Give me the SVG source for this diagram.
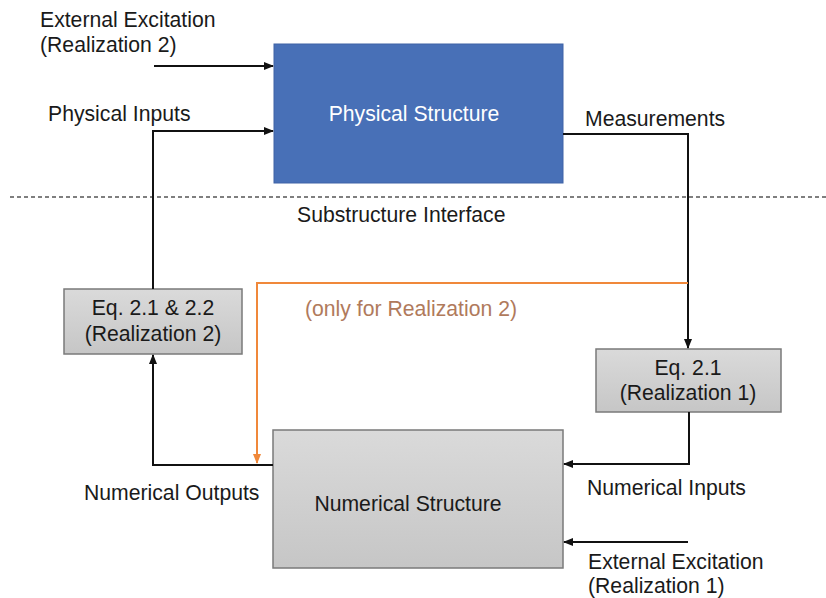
<svg xmlns="http://www.w3.org/2000/svg" width="826" height="598" viewBox="0 0 826 598">
  <style>
    text { font-family: "Liberation Sans", Arial, sans-serif; font-size: 21.2px; fill: #1a1a1a; }
    .c { text-anchor: middle; }
    .w { fill: #ffffff; }
    .note { fill: #b07a5c; }
    .wire { fill: none; stroke: #111; stroke-width: 2; }
    .orange { fill: none; stroke: #f0883a; stroke-width: 2; }
    .eq { stroke: #7a7a7a; stroke-width: 1.5; fill: url(#gray); }
  </style>
  <defs>
    <linearGradient id="gray" x1="0" y1="0" x2="0" y2="1">
      <stop offset="0" stop-color="#dadada"/>
      <stop offset="1" stop-color="#c6c6c6"/>
    </linearGradient>
    <marker id="ah" markerWidth="10" markerHeight="8" refX="9" refY="4" orient="auto" markerUnits="userSpaceOnUse">
      <path d="M0,0 L10,4 L0,8 Z" fill="#111"/>
    </marker>
    <marker id="aho" markerWidth="10" markerHeight="8" refX="9" refY="4" orient="auto" markerUnits="userSpaceOnUse">
      <path d="M0,0 L10,4 L0,8 Z" fill="#f0883a"/>
    </marker>
  </defs>

  <!-- interface line between the physical and numerical parts -->
  <line x1="10" y1="197" x2="826" y2="197" stroke="#555" stroke-width="1.5" stroke-dasharray="4 3"/>
  <text x="297" y="222">Substructure Interface</text>

  <g id="physical">
    <rect x="274" y="44" width="289" height="139" fill="#4870b7" stroke="#3f63a6" stroke-width="1"/>
    <text class="c w" x="414" y="121">Physical Structure</text>
  </g>

  <g id="eq21_22">
    <rect class="eq" x="64" y="289" width="178" height="65"/>
    <text class="c" x="153" y="315">Eq. 2.1 &amp; 2.2</text>
    <text class="c" x="153" y="341">(Realization 2)</text>
  </g>

  <g id="eq21">
    <rect class="eq" x="596" y="349" width="185" height="63"/>
    <text class="c" x="688" y="375">Eq. 2.1</text>
    <text class="c" x="688" y="400">(Realization 1)</text>
  </g>

  <g id="numerical">
    <rect x="273" y="430" width="290" height="138" fill="url(#gray)" stroke="#7a7a7a" stroke-width="1.5"/>
    <text class="c" x="408" y="511">Numerical Structure</text>
  </g>

  <g id="connectors">
    <!-- external excitation into the physical structure -->
    <line class="wire" x1="154" y1="66" x2="273" y2="66" marker-end="url(#ah)"/>
    <!-- physical inputs from Eq. 2.1 & 2.2 -->
    <polyline class="wire" points="153,289 153,131 273,131" marker-end="url(#ah)"/>
    <!-- measurements down to Eq. 2.1 -->
    <polyline class="wire" points="563,134 688,134 688,348" marker-end="url(#ah)"/>
    <!-- measurements branch, realization 2 only -->
    <polyline class="orange" points="688,283 257,283 257,463" marker-end="url(#aho)"/>
    <!-- numerical inputs -->
    <polyline class="wire" points="689,412 689,464 564,464" marker-end="url(#ah)"/>
    <!-- external excitation into the numerical structure -->
    <line class="wire" x1="688" y1="542" x2="564" y2="542" marker-end="url(#ah)"/>
    <!-- numerical outputs back to Eq. 2.1 & 2.2 -->
    <polyline class="wire" points="273,465 153,465 153,355" marker-end="url(#ah)"/>
  </g>

  <text x="40" y="27">External Excitation</text>
  <text x="40" y="52">(Realization 2)</text>
  <text x="48" y="121">Physical Inputs</text>
  <text x="585" y="126">Measurements</text>
  <text class="note" x="305" y="316">(only for Realization 2)</text>
  <text x="84" y="500">Numerical Outputs</text>
  <text x="587" y="495">Numerical Inputs</text>
  <text x="588" y="569">External Excitation</text>
  <text x="588" y="593">(Realization 1)</text>
</svg>
